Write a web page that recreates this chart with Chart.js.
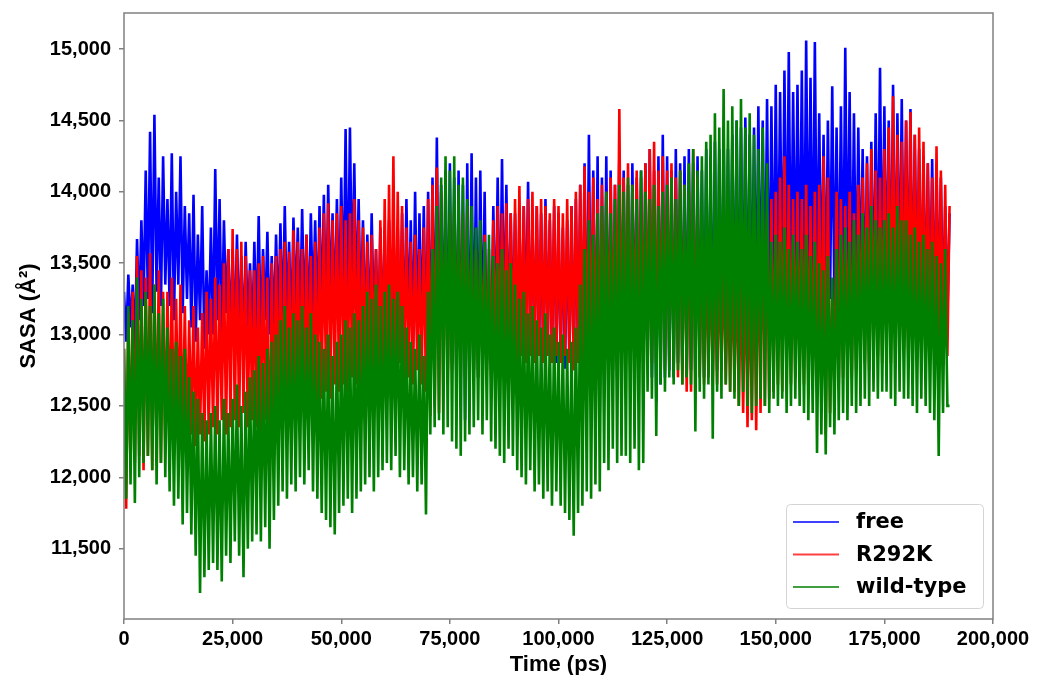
<!DOCTYPE html>
<html>
<head>
<meta charset="utf-8">
<title>SASA</title>
<script src="https://cdn.jsdelivr.net/npm/chart.js@4.4.1/dist/chart.umd.min.js"></script>
<style>
  html, body { margin: 0; padding: 0; background: #fff; }
  #wrap { width: 1037px; height: 675px; }
</style>
</head>
<body>
<div id="wrap"><canvas id="sasaChart" width="1037" height="675"></canvas></div>
<script>
// time step of the trajectory samples (ps)
const timeStep = 500;

const seriesNames = ['free', 'R292K', 'wild-type'];
const seriesColors = ['#0000ff', '#ff0000', '#008000'];

const xTicks = [0, 25000, 50000, 75000, 100000, 125000, 150000, 175000, 200000];
const yTicks = [11500, 12000, 12500, 13000, 13500, 14000, 14500, 15000];

// SASA values, one row = 5000 ps
const free = [
  13300, 12950, 13420, 13050, 13350, 12900, 13670, 13100, 13800, 13200,
  14150, 13250, 14420, 13150, 14540, 13300, 14100, 13200, 14250, 13350,
  13950, 13200, 14270, 13100, 14000, 13350, 14250, 13150, 13900, 13250,
  13850, 13050, 13980, 12950, 13700, 13100, 13900, 12900, 13450, 13000,
  13750, 13000, 14160, 13100, 13950, 12950, 13800, 13150, 13600, 13000,
  13600, 12950, 13700, 13000, 13550, 12900, 13650, 13050, 13500, 12950,
  13650, 13000, 13830, 12950, 13600, 13100, 13720, 13000, 13550, 13050,
  13700, 13050, 13780, 13000, 13900, 13100, 13650, 13000, 13820, 13150,
  13750, 13050, 13880, 13100, 13700, 13000, 13850, 13150, 13800, 13050,
  13900, 13100, 13980, 13050, 14050, 13200, 13850, 13100, 13950, 13150,
  14100, 13200, 14440, 13150, 14450, 13300, 14200, 13150, 13950, 13100,
  13800, 13000, 13700, 12950, 13850, 13050, 13600, 12950, 13750, 13000,
  13700, 12950, 13800, 12900, 13650, 13000, 13750, 12950, 13850, 12900,
  13950, 13000, 13800, 12900, 14000, 12950, 13850, 13000, 13900, 12850,
  14000, 12850, 14100, 12800, 14380, 12900, 14050, 12850, 14150, 12750,
  14200, 12800, 14100, 12650, 14150, 12700, 14050, 12400, 14200, 12550,
  14270, 12750, 14100, 12700, 14150, 12850, 14000, 12800, 13250, 12900,
  13900, 12950, 14100, 12900, 14230, 13000, 14050, 12950, 13850, 13000,
  13850, 12950, 13800, 12900, 13900, 13050, 14070, 12950, 13800, 12900,
  13900, 12850, 13850, 12800, 13950, 12900, 13800, 12850, 13900, 12800,
  13850, 12800, 13750, 12760, 13800, 12850, 13900, 12750, 13950, 12800,
  14050, 12700, 14200, 12650, 14400, 12750, 14150, 12600, 14250, 12450,
  14100, 12700, 14250, 12650, 14150, 12750, 14050, 12700, 14270, 12800,
  14150, 12850, 14050, 12800, 14200, 12900, 14100, 12800, 14150, 12850,
  14200, 12750, 14300, 12700, 14150, 12530, 14250, 12650, 14400, 12700,
  14250, 12750, 14150, 12700, 14300, 12800, 14200, 12750, 14250, 12700,
  14300, 12750, 14200, 12680, 14250, 12800, 14150, 12700, 14300, 12750,
  14250, 12800, 14350, 12750, 14300, 12850, 14400, 12800, 14300, 12900,
  14400, 12900, 14500, 12850, 14450, 12950, 14520, 12900, 14400, 13000,
  14450, 13000, 14600, 13050, 14500, 13100, 14650, 13000, 14600, 13150,
  14750, 13200, 14700, 13150, 14850, 13250, 14980, 13200, 14700, 13300,
  14750, 13250, 14850, 13200, 15060, 13300, 14800, 13200, 15050, 13250,
  14550, 13200, 14400, 13150, 14500, 13250, 14740, 13200, 14450, 13150,
  14600, 13200, 15010, 13250, 14700, 13150, 14550, 13200, 14450, 13250,
  14300, 13150, 14250, 13200, 14350, 13150, 14550, 13250, 14870, 13200,
  14600, 13250, 14500, 13200, 14750, 13150, 14550, 13250, 14650, 13200,
  14500, 13200, 14580, 13150, 14400, 13250, 14300, 13100, 14250, 13150,
  14200, 13150, 14230, 13100, 14150, 13200, 14100, 13150, 13900, 13100,
  13850
];

const r292k = [
  12900, 11780, 13150, 12050, 13300, 12100, 13550, 12150, 13450, 12050,
  13400, 12150, 13570, 12050, 13350, 12200, 13450, 12100, 13300, 12250,
  13300, 12250, 13400, 12200, 13250, 12300, 13350, 12200, 13200, 12250,
  13100, 12300, 13200, 12220, 13050, 12300, 13150, 12250, 13300, 12300,
  13250, 12350, 13400, 12300, 13350, 12400, 13500, 12300, 13600, 12350,
  13740, 12400, 13600, 12350, 13650, 12450, 13550, 12350, 13450, 12400,
  13450, 12350, 13500, 12300, 13550, 12400, 13400, 11850, 13500, 12350,
  13550, 12400, 13600, 12350, 13650, 12450, 13580, 12400, 13730, 12450,
  13650, 12500, 13600, 12450, 13700, 12550, 13550, 12450, 13650, 12500,
  13750, 12550, 13850, 12600, 13920, 12550, 13800, 12650, 13850, 12600,
  13900, 12650, 13800, 12600, 13850, 12700, 13950, 12650, 13800, 12600,
  13750, 12700, 13650, 12650, 13700, 12750, 13600, 12700, 13800, 12650,
  13950, 12700, 14050, 12750, 14250, 12700, 14000, 12800, 13900, 12700,
  13750, 12700, 13650, 12650, 13700, 12750, 13600, 12650, 13750, 12600,
  13950, 12430, 14050, 12500, 14170, 12450, 14000, 12600, 13900, 12650,
  13850, 12750, 13900, 12700, 13950, 12800, 13850, 12700, 13900, 12750,
  13700, 12750, 13600, 12700, 13650, 12800, 13700, 12750, 13600, 12700,
  13800, 12750, 13900, 12800, 13850, 12750, 13920, 12800, 13850, 12750,
  13950, 12800, 14040, 12850, 13900, 12800, 13950, 12850, 14000, 12800,
  13900, 12850, 13950, 12800, 13900, 12850, 13850, 12800, 13950, 12850,
  13900, 12800, 13850, 12850, 13950, 12800, 13900, 12750, 14000, 12800,
  14050, 12800, 14180, 12750, 14000, 12800, 14100, 12750, 13950, 12800,
  14050, 12750, 14000, 12800, 14100, 12750, 14050, 12800, 14580, 12750,
  14100, 12800, 14200, 12750, 14050, 12800, 14150, 12750, 14100, 12800,
  14200, 12750, 14300, 12800, 14350, 12750, 14150, 12800, 14250, 12750,
  14150, 12800, 14200, 12750, 14100, 12700, 14150, 12650, 14050, 12600,
  14000, 12600, 14300, 12650, 14100, 12700, 13700, 12650, 13600, 12700,
  13550, 12700, 13450, 12650, 13500, 12750, 13550, 12650, 13450, 12600,
  13500, 12600, 13550, 12500, 13450, 12450, 13550, 12350, 13500, 12400,
  13600, 12330, 13800, 12450, 13900, 12500, 13850, 12550, 13950, 12600,
  14000, 12650, 14100, 12600, 14250, 12700, 14050, 12650, 13950, 12700,
  14000, 12700, 13950, 12650, 14050, 12700, 13900, 12650, 14000, 12600,
  14050, 12540, 14250, 12300, 14100, 12450, 13250, 12600, 14000, 12650,
  13950, 12700, 13900, 12750, 14000, 12700, 13850, 12750, 14050, 12800,
  14100, 12800, 14200, 12750, 14300, 12800, 14150, 12850, 14100, 12800,
  14300, 12850, 14450, 12800, 14670, 12900, 14400, 12850, 14350, 12900,
  14500, 12850, 14560, 12900, 14400, 12850, 14450, 12900, 14350, 12850,
  14200, 12850, 14100, 12800, 14320, 12850, 14150, 12800, 14050, 12850,
  13900
];

const wildType = [
  12900, 11850, 13200, 11950, 13100, 11820, 13400, 12000, 13250, 12100,
  13300, 12150, 13200, 12050, 13350, 11950, 13150, 12100, 13250, 12000,
  13050, 11900, 12900, 11800, 12950, 11850, 12850, 11670, 12900, 11750,
  12700, 11600, 12600, 11450, 12550, 11190, 12450, 11300, 12400, 11350,
  12450, 11400, 12500, 11350, 12400, 11270, 12550, 11450, 12450, 11400,
  12550, 11550, 12650, 11450, 12500, 11300, 12600, 11500, 12700, 11550,
  12750, 11600, 12850, 11550, 12800, 11650, 12900, 11500, 12950, 11700,
  13000, 11800, 13100, 11900, 13200, 11850, 13050, 11950, 13150, 11900,
  13100, 12000, 13200, 11950, 13050, 12050, 13150, 11900, 13000, 11850,
  12950, 11750, 12900, 11700, 13000, 11650, 12850, 11600, 12950, 11750,
  13000, 11800, 13100, 11850, 13050, 11750, 13150, 11850, 13100, 11900,
  13200, 11950, 13300, 12000, 13250, 11900, 13350, 12000, 13200, 12050,
  13300, 12100, 13350, 12050, 13250, 12150, 13300, 12000, 13200, 12050,
  13050, 11950, 12950, 12000, 12900, 11900, 13000, 11950, 12850, 11740,
  13300, 12300, 13600, 12350, 13900, 12400, 14100, 12300, 14250, 12350,
  14150, 12250, 14250, 12200, 14050, 12150, 14100, 12250, 13950, 12300,
  13900, 12350, 13750, 12400, 13800, 12300, 13650, 12400, 13700, 12250,
  13550, 12200, 13500, 12150, 13600, 12100, 13450, 12200, 13500, 12150,
  13350, 12050, 13250, 12000, 13300, 11950, 13150, 12050, 13200, 11900,
  13100, 11950, 13050, 11850, 13150, 11900, 13000, 11800, 13050, 11900,
  12950, 11800, 13000, 11750, 12900, 11700, 12950, 11590, 13050, 11750,
  13350, 11800, 13600, 11900, 13800, 11850, 13700, 11950, 13850, 11900,
  13900, 12100, 14000, 12050, 13850, 12200, 13950, 12100, 14050, 12150,
  14000, 12150, 14100, 12100, 14050, 12200, 13950, 12050, 14150, 12100,
  14000, 12600, 13950, 12550, 14050, 12290, 13900, 12650, 14000, 12600,
  14050, 12700, 14100, 12650, 13950, 12750, 14150, 12650, 14050, 12700,
  14200, 12650, 14300, 12320, 14150, 12600, 14250, 12550, 14350, 12650,
  14400, 12270, 14550, 12600, 14450, 12550, 14720, 12650, 14500, 12600,
  14600, 12550, 14500, 12500, 14650, 12600, 14450, 12500, 14550, 12450,
  14400, 12500, 14300, 12550, 14450, 12500, 14200, 12450, 13650, 12550,
  13700, 12500, 13650, 12550, 13750, 12450, 13600, 12500, 13700, 12550,
  13650, 12500, 13600, 12450, 13700, 12400, 13550, 12450, 13650, 12170,
  13500, 12300, 13450, 12160, 13550, 12350, 13400, 12300, 13600, 12400,
  13700, 12450, 13750, 12400, 13650, 12500, 13800, 12450, 13700, 12500,
  13850, 12550, 13750, 12500, 13900, 12600, 13800, 12550, 13750, 12600,
  13800, 12600, 13850, 12550, 13750, 12500, 13900, 12600, 13800, 12550,
  13800, 12550, 13700, 12500, 13750, 12450, 13650, 12550, 13700, 12500,
  13600, 12450, 13650, 12400, 13550, 12150, 13500, 12450, 13600, 12500,
  12500
];

const seriesValues = [free, r292k, wildType];

function toPoints(values) {
  return values.map((v, i) => ({ x: i * timeStep, y: v }));
}

const fmt = v => Number(v).toLocaleString('en-US');

// frame around the plot area
const frameBox = {
  id: 'frameBox',
  afterDatasetsDraw(chart) {
    const a = chart.chartArea;
    const ctx = chart.ctx;
    ctx.save();
    ctx.strokeStyle = '#808080';
    ctx.lineWidth = 1.5;
    ctx.strokeRect(a.left, a.top, a.right - a.left, a.bottom - a.top);
    ctx.restore();
  }
};

// legend box in the lower right corner, like matplotlib's
const cornerLegend = {
  id: 'cornerLegend',
  afterDraw(chart) {
    const a = chart.chartArea;
    const ctx = chart.ctx;
    const w = 197, h = 104;
    const x0 = a.right - 10 - w, y0 = a.bottom - 11 - h;
    ctx.save();
    ctx.fillStyle = 'rgba(255,255,255,0.85)';
    ctx.strokeStyle = '#d4d4d4';
    ctx.lineWidth = 1;
    ctx.beginPath();
    ctx.roundRect(x0 + 0.5, y0 + 0.5, w, h, 4);
    ctx.fill();
    ctx.stroke();
    ctx.font = 'bold 21px "DejaVu Sans"';
    ctx.textBaseline = 'middle';
    chart.data.datasets.forEach((ds, i) => {
      const y = y0 + 18 + i * 32.5;
      ctx.globalAlpha = 0.75;
      ctx.strokeStyle = ds.borderColor;
      ctx.lineWidth = 2;
      ctx.beginPath();
      ctx.moveTo(x0 + 7, y);
      ctx.lineTo(x0 + 53, y);
      ctx.stroke();
      ctx.globalAlpha = 1;
      ctx.fillStyle = '#000';
      ctx.fillText(ds.label, x0 + 70, y + 1);
    });
    ctx.restore();
  }
};

const ctx = document.getElementById('sasaChart').getContext('2d');
const sasaChart = new Chart(ctx, {
  type: 'line',
  data: {
    datasets: seriesNames.map((name, i) => ({
      label: name,
      data: toPoints(seriesValues[i]),
      borderColor: seriesColors[i],
      borderWidth: 2.6,
      pointRadius: 0,
      tension: 0,
      fill: false,
      order: 3 - i
    }))
  },
  options: {
    responsive: false,
    animation: false,
    events: [],
    layout: { padding: { top: 13, right: 44, left: 0, bottom: 0 } },
    plugins: {
      legend: { display: false },
      tooltip: { enabled: false }
    },
    scales: {
      x: {
        type: 'linear',
        min: 0,
        max: 200000,
        afterFit(scale) { scale.height = 56; scale.paddingLeft = 0; },
        afterBuildTicks(scale) { scale.ticks = xTicks.map(v => ({ value: v })); },
        grid: { display: true, drawOnChartArea: false, drawTicks: true, tickLength: 5, color: '#808080', lineWidth: 1.5 },
        border: { display: false },
        ticks: {
          color: '#000',
          padding: 3,
          maxRotation: 0,
          font: { family: 'Liberation Sans, Arial, sans-serif', size: 20, weight: 'bold' },
          callback: v => fmt(v)
        },
        title: {
          display: true,
          text: 'Time (ps)',
          color: '#000',
          padding: { top: 0, bottom: 0 },
          font: { family: 'Liberation Sans, Arial, sans-serif', size: 22, weight: 'bold', lineHeight: 0.9 }
        }
      },
      y: {
        type: 'linear',
        min: 11007,
        max: 15253,
        afterFit(scale) { scale.width = 124; scale.paddingTop = 0; scale.paddingBottom = 0; },
        afterBuildTicks(scale) { scale.ticks = yTicks.map(v => ({ value: v })); },
        grid: { display: true, drawOnChartArea: false, drawTicks: true, tickLength: 5, color: '#808080', lineWidth: 1.5 },
        border: { display: false },
        ticks: {
          color: '#000',
          padding: 8,
          font: { family: 'Liberation Sans, Arial, sans-serif', size: 20, weight: 'bold' },
          callback: v => fmt(v)
        },
        title: {
          display: true,
          text: 'SASA (Å²)',
          color: '#000',
          padding: { top: 16, bottom: 0 },
          font: { family: 'Liberation Sans, Arial, sans-serif', size: 22, weight: 'bold' }
        }
      }
    }
  },
  plugins: [frameBox, cornerLegend]
});
</script>
</body>
</html>
